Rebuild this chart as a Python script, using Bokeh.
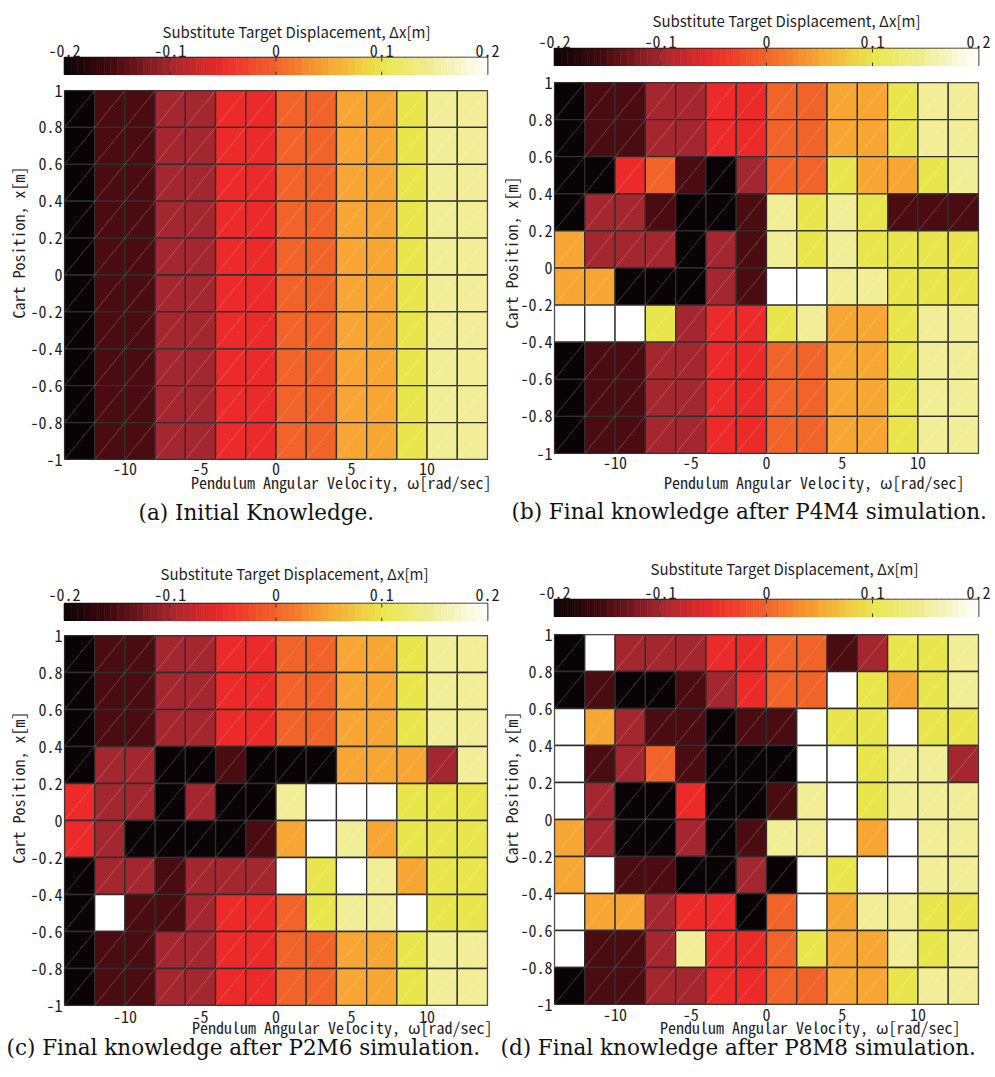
import numpy as np
from bokeh.plotting import figure
from bokeh.layouts import column, row
from bokeh.models import LinearColorMapper, ColumnDataSource, FixedTicker, Title
from bokeh.embed import file_html
from bokeh.resources import INLINE

# ---------------- data ----------------
# discrete displacement levels read from the colour of each cell (Δx [m])
K, D, M, R, O, A, Y, P, W = -0.2, -0.15, -0.1, -0.05, 0.0, 0.05, 0.1, 0.15, 0.2

omega_edges = [-14, -12, -10, -8, -6, -4, -2, 0, 2, 4, 6, 8, 10, 12, 14]
x_edges = [1.0, 0.8, 0.6, 0.4, 0.2, 0.0, -0.2, -0.4, -0.6, -0.8, -1.0]   # top -> bottom

omega_ticks = [-10, -5, 0, 5, 10]
omega_tick_labels = ["-10", "-5", "0", "5", "10"]
x_ticks = [-1.0, -0.8, -0.6, -0.4, -0.2, 0.0, 0.2, 0.4, 0.6, 0.8, 1.0]
x_tick_labels = ["-1", "-0.8", "-0.6", "-0.4", "-0.2", "0", "0.2", "0.4", "0.6", "0.8", "1"]
cbar_ticks = [-0.2, -0.1, 0.0, 0.1, 0.2]
cbar_tick_labels = ["-0.2", "-0.1", "0", "0.1", "0.2"]

# rows listed from top (x = 1) to bottom (x = -1)
grid_a = [
    [K, D, D, M, M, R, R, O, O, A, A, Y, P, P],
    [K, D, D, M, M, R, R, O, O, A, A, Y, P, P],
    [K, D, D, M, M, R, R, O, O, A, A, Y, P, P],
    [K, D, D, M, M, R, R, O, O, A, A, Y, P, P],
    [K, D, D, M, M, R, R, O, O, A, A, Y, P, P],
    [K, D, D, M, M, R, R, O, O, A, A, Y, P, P],
    [K, D, D, M, M, R, R, O, O, A, A, Y, P, P],
    [K, D, D, M, M, R, R, O, O, A, A, Y, P, P],
    [K, D, D, M, M, R, R, O, O, A, A, Y, P, P],
    [K, D, D, M, M, R, R, O, O, A, A, Y, P, P],
]
grid_b = [
    [K, D, D, M, M, R, R, O, O, A, A, Y, P, P],
    [K, D, D, M, M, R, R, O, O, A, A, Y, P, P],
    [K, K, R, O, D, K, M, O, O, Y, A, A, Y, P],
    [K, M, M, D, K, K, D, P, Y, P, Y, D, D, D],
    [A, M, M, M, K, M, D, P, Y, P, Y, Y, Y, Y],
    [A, A, K, K, K, M, D, W, W, P, P, Y, Y, Y],
    [W, W, W, Y, M, R, R, Y, P, A, A, Y, P, P],
    [K, D, D, M, M, R, R, O, O, A, A, Y, P, P],
    [K, D, D, M, M, R, R, O, O, A, A, Y, P, P],
    [K, D, D, M, M, R, R, O, O, A, A, Y, P, P],
]
grid_c = [
    [K, D, D, M, M, R, R, O, O, A, A, Y, P, P],
    [K, D, D, M, M, R, R, O, O, A, A, Y, P, P],
    [K, D, D, M, M, R, R, O, O, A, A, Y, P, P],
    [K, M, M, K, K, D, K, K, K, A, A, A, M, P],
    [R, M, M, K, M, K, K, P, W, W, W, Y, Y, Y],
    [R, M, K, K, K, K, D, A, W, P, A, Y, Y, Y],
    [K, M, M, D, M, M, M, W, Y, W, P, A, Y, Y],
    [K, W, D, D, M, R, R, O, Y, P, P, W, Y, Y],
    [K, D, D, M, M, R, R, O, O, A, A, Y, P, P],
    [K, D, D, M, M, R, R, O, O, A, A, Y, P, P],
]
grid_d = [
    [K, W, M, M, M, R, R, O, O, D, M, Y, Y, P],
    [K, D, K, K, D, M, R, O, O, W, Y, A, Y, P],
    [W, A, M, D, D, K, D, D, W, Y, Y, W, Y, Y],
    [W, D, M, O, D, K, K, K, W, W, Y, P, P, M],
    [W, M, K, K, R, K, K, D, P, W, Y, P, P, P],
    [A, M, K, K, M, K, D, P, P, W, A, W, P, P],
    [A, W, D, D, K, K, M, K, W, Y, W, W, P, P],
    [W, A, A, M, R, R, K, O, W, A, P, P, Y, Y],
    [W, D, D, M, P, R, R, O, Y, A, A, P, Y, P],
    [K, D, D, M, M, R, R, O, O, A, A, Y, P, P],
]

captions = ["(a) Initial Knowledge.",
            "(b) Final knowledge after P4M4 simulation.",
            "(c) Final knowledge after P2M6 simulation.",
            "(d) Final knowledge after P8M8 simulation."]

# ---------------- colour map ----------------
anchor_vals = [-0.2, -0.15, -0.1, -0.05, 0.0, 0.05, 0.1, 0.15, 0.2]
anchor_cols = ["#0a0305", "#4a0c10", "#a4272f", "#ec2a2a", "#f2632a",
               "#f7a633", "#e9e64d", "#f1ee97", "#ffffff"]


def hex2rgb(h):
    return np.array([int(h[i:i + 2], 16) for i in (1, 3, 5)], dtype=float)


arr = np.array([hex2rgb(c) for c in anchor_cols])
pal_vals = np.linspace(-0.2, 0.2, 81)
palette = []
for v in pal_vals:
    rgb = [np.interp(v, anchor_vals, arr[:, k]) for k in range(3)]
    palette.append("#%02x%02x%02x" % tuple(int(round(c)) for c in rgb))
mapper = LinearColorMapper(palette=palette, low=-0.2025, high=0.2025)

TICK_FONT = "Noto Sans Mono CJK JP"
TITLE_FONT = "Noto Sans CJK JP"
CAP_FONT = "DejaVu Serif"
TXT = "#1e1e1e"
FS = "16px"

# per-panel layout (pixels)
cfg = [
    dict(w=500, left=64, fw=423, cb_top=57, cb_so=1, ttl_so=0, ttl_off=98,
         hm_h=470, hm_top=15, hm_fh=369, xt_so=3, xl_so=-20, xl_off=-4,
         yl_so=-5, yl_off=141, cap_off=74, cap_so=29),
    dict(w=494, left=54, fw=424, cb_top=48, cb_so=1, ttl_so=4, ttl_off=98,
         hm_h=479, hm_top=16, hm_fh=371, xt_so=3, xl_so=-8, xl_off=14,
         yl_so=-11, yl_off=125, cap_off=-43, cap_so=15),
    dict(w=500, left=64, fw=423, cb_top=58, cb_so=3, ttl_so=4, ttl_off=96,
         hm_h=454, hm_top=14, hm_fh=370, xt_so=5, xl_so=-26, xl_off=-5,
         yl_so=-5, yl_off=142, cap_off=-58, cap_so=15),
    dict(w=494, left=54, fw=424, cb_top=54, cb_so=1, ttl_so=10, ttl_off=96,
         hm_h=458, hm_top=17, hm_fh=370, xt_so=4, xl_so=-22, xl_off=18,
         yl_so=-11, yl_off=141, cap_off=-54, cap_so=11),
]


def style_axis(ax, standoff):
    ax.axis_line_color = None
    ax.major_tick_line_color = None
    ax.minor_tick_line_color = None
    ax.major_tick_out = 0
    ax.major_tick_in = 0
    ax.minor_tick_out = 0
    ax.minor_tick_in = 0
    ax.major_label_standoff = standoff
    ax.major_label_text_font = TICK_FONT
    ax.major_label_text_font_size = FS
    ax.major_label_text_color = TXT


def colorbar_fig(c):
    p = figure(width=c["w"], height=c["cb_top"] + 18, x_range=(-0.2, 0.2), y_range=(0, 1),
               output_backend="svg", toolbar_location=None, x_axis_location="above",
               y_axis_location=None, min_border_left=c["left"],
               min_border_right=c["w"] - c["left"] - c["fw"],
               min_border_top=c["cb_top"], min_border_bottom=0)
    edges = np.linspace(-0.2, 0.2, 65)
    src = ColumnDataSource(dict(l=edges[:-1], r=edges[1:], v=(edges[:-1] + edges[1:]) / 2))
    p.quad(left="l", right="r", bottom=0, top=1, source=src,
           fill_color={"field": "v", "transform": mapper},
           line_color={"field": "v", "transform": mapper}, line_width=0.6)
    tk = ColumnDataSource(dict(x=cbar_ticks[1:-1]))
    p.segment(x0="x", x1="x", y0=0, y1=0.22, source=tk, line_color="#333333", line_width=1)
    p.segment(x0="x", x1="x", y0=0.78, y1=1, source=tk, line_color="#333333", line_width=1)
    ax = p.xaxis[0]
    ax.ticker = FixedTicker(ticks=cbar_ticks)
    ax.major_label_overrides = dict(zip(cbar_ticks, cbar_tick_labels))
    style_axis(ax, c["cb_so"])
    p.xgrid.visible = False
    p.ygrid.visible = False
    p.outline_line_color = "#111111"
    p.outline_line_width = 1.6
    p.add_layout(Title(text="Substitute Target Displacement, Δx[m]", align="left",
                       offset=c["ttl_off"], standoff=c["ttl_so"], text_font=TITLE_FONT,
                       text_font_size="15px", text_font_style="normal",
                       text_color=TXT), "above")
    return p


def heat_fig(grid, c, caption):
    fb = c["hm_h"] - c["hm_top"] - c["hm_fh"]
    p = figure(width=c["w"], height=c["hm_h"], x_range=(-14, 14), y_range=(-1, 1),
               output_backend="svg", toolbar_location=None,
               min_border_left=c["left"], min_border_right=c["w"] - c["left"] - c["fw"],
               min_border_top=c["hm_top"], min_border_bottom=fb)
    l, r, b, t, vs = [], [], [], [], []
    for i, rowv in enumerate(grid):
        for j, v in enumerate(rowv):
            l.append(omega_edges[j]); r.append(omega_edges[j + 1])
            t.append(x_edges[i]); b.append(x_edges[i + 1])
            vs.append(v)
    src = ColumnDataSource(dict(l=l, r=r, b=b, t=t, v=vs))
    p.quad(left="l", right="r", bottom="b", top="t", source=src,
           fill_color={"field": "v", "transform": mapper},
           line_color="#2e2e2e", line_width=1.3)
    p.segment(x0="l", y0="b", x1="r", y1="t", source=src,
              line_color="white", line_alpha=0.3, line_width=0.7)
    p.xgrid.visible = False
    p.ygrid.visible = False
    p.outline_line_color = "#3a3a3a"
    p.outline_line_width = 1.2
    p.xaxis.ticker = FixedTicker(ticks=omega_ticks)
    p.xaxis.major_label_overrides = dict(zip(omega_ticks, omega_tick_labels))
    p.yaxis.ticker = FixedTicker(ticks=x_ticks)
    p.yaxis.major_label_overrides = dict(zip(x_ticks, x_tick_labels))
    style_axis(p.xaxis[0], c["xt_so"])
    style_axis(p.yaxis[0], 2)
    p.add_layout(Title(text="Pendulum Angular Velocity, ω[rad/sec]", align="right",
                       offset=c["xl_off"], standoff=c["xl_so"], text_font=TICK_FONT,
                       text_font_size=FS, text_font_style="normal",
                       text_color=TXT), "below")
    p.add_layout(Title(text=caption, align="left", offset=c["cap_off"],
                       standoff=c["cap_so"], text_font=CAP_FONT,
                       text_font_size="21.5px", text_font_style="normal",
                       text_color="#111111"), "below")
    p.add_layout(Title(text="Cart Position, x[m]", align="left", offset=c["yl_off"],
                       standoff=c["yl_so"], text_font=TICK_FONT, text_font_size=FS,
                       text_font_style="normal", text_color=TXT), "left")
    return p


grids = [grid_a, grid_b, grid_c, grid_d]
cols = [column(colorbar_fig(cfg[k]), heat_fig(grids[k], cfg[k], captions[k]))
        for k in range(4)]
layout = column(row(cols[0], cols[1]), row(cols[2], cols[3]))

open("out.html", "w").write(file_html(layout, INLINE))
